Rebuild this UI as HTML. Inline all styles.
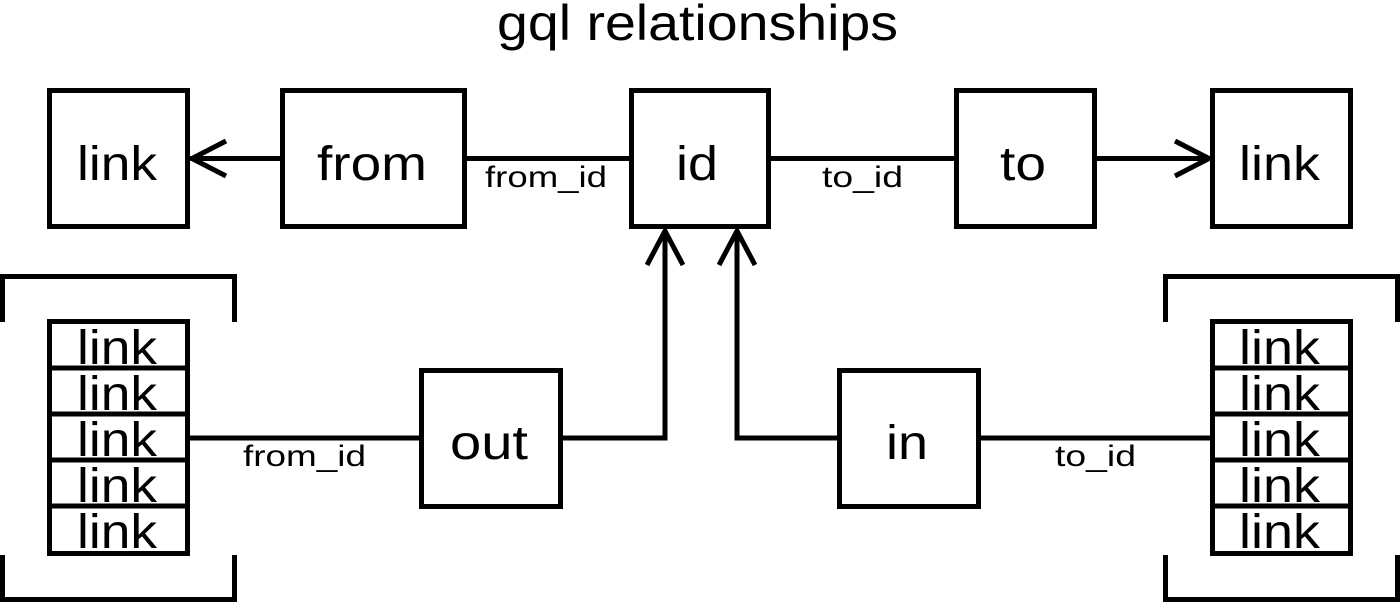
<!DOCTYPE html>
<html><head><meta charset="utf-8"><style>
html,body{margin:0;padding:0;background:#fff;}
svg{display:block;}
text{font-family:"Liberation Sans",sans-serif;fill:#000;}
</style></head><body>
<svg width="1400" height="603" viewBox="0 0 1400 603" xmlns="http://www.w3.org/2000/svg">
<text x="497" y="40" font-size="50" textLength="401" lengthAdjust="spacingAndGlyphs">gql relationships</text>
<g fill="none" stroke="#000" stroke-width="5">
<rect x="49.5" y="90.5" width="138" height="136"/>
<rect x="282.5" y="90.5" width="182" height="136"/>
<rect x="631.5" y="90.5" width="137" height="136"/>
<rect x="956.5" y="90.5" width="138" height="136"/>
<rect x="1212.5" y="90.5" width="138" height="136"/>
<rect x="421.5" y="370.5" width="139" height="136"/>
<rect x="839.5" y="370.5" width="139" height="136"/>
<line x1="190" y1="158.5" x2="282" y2="158.5"/>
<polyline points="226,141 192,158.5 226,176"/>
<line x1="465" y1="158.5" x2="631" y2="158.5"/>
<line x1="769" y1="158.5" x2="956" y2="158.5"/>
<line x1="1095" y1="158.5" x2="1210" y2="158.5"/>
<polyline points="1175,141 1209,158.5 1175,176"/>
<polyline points="561,438 665,438 665,230"/>
<polyline points="647,265 665,231 683,265"/>
<polyline points="839,438 737,438 737,230"/>
<polyline points="719,265 737,231 755,265"/>
<line x1="190" y1="438" x2="421" y2="438"/>
<line x1="978" y1="438" x2="1212" y2="438"/>
<rect x="49.5" y="321.5" width="138" height="232"/>
<line x1="49" y1="368" x2="188" y2="368"/>
<line x1="49" y1="414" x2="188" y2="414"/>
<line x1="49" y1="460" x2="188" y2="460"/>
<line x1="49" y1="506" x2="188" y2="506"/>
<rect x="1212.5" y="321.5" width="138" height="232"/>
<line x1="1212" y1="368" x2="1351" y2="368"/>
<line x1="1212" y1="414" x2="1351" y2="414"/>
<line x1="1212" y1="460" x2="1351" y2="460"/>
<line x1="1212" y1="506" x2="1351" y2="506"/>
<polyline points="2.5,322 2.5,276.5 234.5,276.5 234.5,322"/>
<polyline points="2.5,555 2.5,599.5 234.5,599.5 234.5,555"/>
<polyline points="1165.5,322 1165.5,276.5 1397.5,276.5 1397.5,322"/>
<polyline points="1165.5,555 1165.5,599.5 1397.5,599.5 1397.5,555"/>
</g>
<g font-size="48" lengthAdjust="spacingAndGlyphs">
<text x="77" y="180" textLength="80" lengthAdjust="spacingAndGlyphs">link</text>
<text x="317" y="180" textLength="110" lengthAdjust="spacingAndGlyphs">from</text>
<text x="676" y="180" textLength="42" lengthAdjust="spacingAndGlyphs">id</text>
<text x="1000" y="180" textLength="46" lengthAdjust="spacingAndGlyphs">to</text>
<text x="1239" y="180" textLength="81" lengthAdjust="spacingAndGlyphs">link</text>
<text x="450" y="459" textLength="78" lengthAdjust="spacingAndGlyphs">out</text>
<text x="886" y="459" textLength="42" lengthAdjust="spacingAndGlyphs">in</text>
<text x="77" y="364" textLength="80" lengthAdjust="spacingAndGlyphs">link</text>
<text x="77" y="410" textLength="80" lengthAdjust="spacingAndGlyphs">link</text>
<text x="77" y="456" textLength="80" lengthAdjust="spacingAndGlyphs">link</text>
<text x="77" y="502" textLength="80" lengthAdjust="spacingAndGlyphs">link</text>
<text x="77" y="548" textLength="80" lengthAdjust="spacingAndGlyphs">link</text>
<text x="1239" y="364" textLength="81" lengthAdjust="spacingAndGlyphs">link</text>
<text x="1239" y="410" textLength="81" lengthAdjust="spacingAndGlyphs">link</text>
<text x="1239" y="456" textLength="81" lengthAdjust="spacingAndGlyphs">link</text>
<text x="1239" y="502" textLength="81" lengthAdjust="spacingAndGlyphs">link</text>
<text x="1239" y="548" textLength="81" lengthAdjust="spacingAndGlyphs">link</text>
</g>
<g font-size="30">
<text x="485" y="187" textLength="122" lengthAdjust="spacingAndGlyphs">from_id</text>
<text x="822" y="187" textLength="81" lengthAdjust="spacingAndGlyphs">to_id</text>
<text x="243" y="466" textLength="123" lengthAdjust="spacingAndGlyphs">from_id</text>
<text x="1055" y="466" textLength="81" lengthAdjust="spacingAndGlyphs">to_id</text>
</g>
</svg>
</body></html>
